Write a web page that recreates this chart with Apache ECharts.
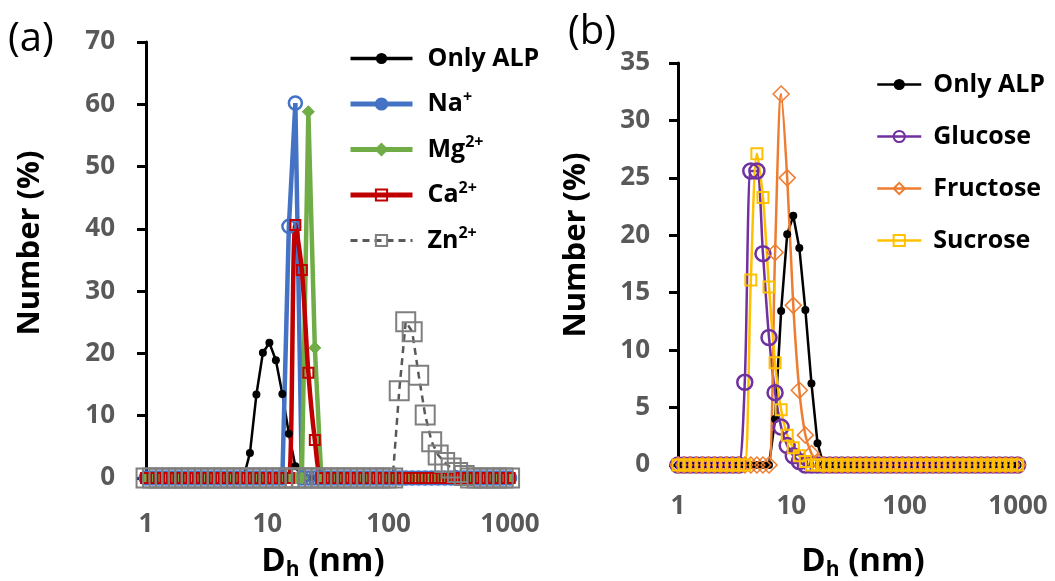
<!DOCTYPE html>
<html><head><meta charset="utf-8">
<script src="https://cdn.jsdelivr.net/npm/echarts@6/dist/echarts.min.js"></script>
<style>html,body{margin:0;padding:0;background:#fff}#c{width:1055px;height:581px}</style>
</head><body><div id="c"></div>
<script>
// Hydrodynamic size bins (nm), shared by every curve
const sizeBins = [1.001,1.132,1.281,1.449,1.639,1.854,2.097,2.371,2.683,3.034,
  3.432,3.882,4.391,4.966,5.617,6.353,7.187,8.128,9.194,10.40,
  11.76,13.30,15.05,17.02,19.25,21.78,24.63,27.86,31.51,35.65,
  40.32,45.60,51.58,58.34,65.99,74.64,84.43,95.50,108.0,122.2,
  138.2,156.3,176.8,200.0,226.2,255.9,289.4,327.3,370.3,418.8,
  473.7,535.8,606.0,685.5,775.4,877.0,992.0];
const xTickLabels = ['1','10','100','1000'];

// Panel (a)
const onlyAlp = [0,0,0,0,0,0,0,0,0,0, 0,0,0,0,0,0,4.0,13.4,20.1,21.7,
  18.9,13.5,7.1,1.9,0,0,0,0,0,0, 0,0,0,0,0,0,0,0,0,0, 0,0,0,0,0,0,0,0,0,0, 0,0,0,0,0,0,0];
const naPlus = [0,0,0,0,0,0,0,0,0,0, 0,0,0,0,0,0,0,0,0,0,
  0,0,40.4,60.2,0,0,0,0,0,0, 0,0,0,0,0,0,0,0,0,0, 0,0,0,0,0,0,0,0,0,0, 0,0,0,0,0,0,0];
const mgPlus = [0,0,0,0,0,0,0,0,0,0, 0,0,0,0,0,0,0,0,0,0,
  0,0,0,0,0,58.8,20.9,0,0,0, 0,0,0,0,0,0,0,0,0,0, 0,0,0,0,0,0,0,0,0,0, 0,0,0,0,0,0,0];
const caPlus = [0,0,0,0,0,0,0,0,0,0, 0,0,0,0,0,0,0,0,0,0,
  0,0,0,40.6,33.4,16.9,6.1,0,0,0, 0,0,0,0,0,0,0,0,0,0, 0,0,0,0,0,0,0,0,0,0, 0,0,0,0,0,0,0];
const znPlus = [0,0,0,0,0,0,0,0,0,0, 0,0,0,0,0,0,0,0,0,0,
  0,0,0,0,0,0,0,0,0,0, 0,0,0,0,0,0,0,0,0,14.0,
  25.1,23.5,16.5,10.1,5.8,3.7,2.5,1.6,0.9,0.4, 0,0,0,0,0,0,0];

// Panel (b)
const glucose = [0,0,0,0,0,0,0,0,0,0, 0,7.2,25.6,25.6,18.4,11.1,6.3,3.3,1.7,0.8,
  0.3,0,0,0,0,0,0,0,0,0, 0,0,0,0,0,0,0,0,0,0, 0,0,0,0,0,0,0,0,0,0, 0,0,0,0,0,0,0];
const fructose = [0,0,0,0,0,0,0,0,0,0, 0,0,0,0,0,0,18.5,32.3,25.0,13.9,
  6.5,2.6,1.0,0.3,0,0,0,0,0,0, 0,0,0,0,0,0,0,0,0,0, 0,0,0,0,0,0,0,0,0,0, 0,0,0,0,0,0,0];
const sucrose = [0,0,0,0,0,0,0,0,0,0, 0,0,16.1,27.1,23.3,15.5,8.9,4.8,2.6,1.5,
  0.8,0.3,0,0,0,0,0,0,0,0, 0,0,0,0,0,0,0,0,0,0, 0,0,0,0,0,0,0,0,0,0, 0,0,0,0,0,0,0];

const FONT = 'Open Sans';
const GRAY = '#595959';
const CLEAR = 'rgba(0,0,0,0)';
const C = {alp: '#000', na: '#4472C4', mg: '#70AD47', ca: '#C00000', zn: '#7F7F7F',
  glu: '#7030A0', fru: '#ED7D31', suc: '#FFC000'};

function pts(ys) { return sizeBins.map((x, i) => [x, ys[i]]); }
function ser(name, ys, gi, o) {
  return Object.assign({
    type: 'line', name: name, xAxisIndex: gi, yAxisIndex: gi, data: pts(ys),
    clip: false, animation: false, emphasis: {disabled: true}
  }, o);
}
function xAxis(gi, margin) {
  return {
    type: 'log', logBase: 10, min: 1, max: 1000, gridIndex: gi,
    axisLine: {show: false}, axisTick: {show: false}, splitLine: {show: false},
    minorTick: {show: false}, minorSplitLine: {show: false},
    axisLabel: {
      margin: margin, color: GRAY, fontFamily: FONT, fontWeight: 'bold', fontSize: 26,
      formatter: v => xTickLabels[Math.round(Math.log10(v))]
    }
  };
}
function yAxis(gi, max, interval, margin) {
  return {
    type: 'value', min: 0, max: max, interval: interval, gridIndex: gi,
    axisLine: {show: true, lineStyle: {color: '#000', width: 3}},
    axisTick: {show: true, inside: false, length: 9, lineStyle: {color: '#000', width: 3}},
    splitLine: {show: false},
    axisLabel: {margin: margin, color: GRAY, fontFamily: FONT, fontWeight: 'bold', fontSize: 26}
  };
}

const legendLabels = {
  'Only ALP': '{sp|}{t|Only ALP}',
  'Na+': '{sp|}{t|Na}{s|+}',
  'Mg2+': '{sp|}{t|Mg}{s|2+}',
  'Ca2+': '{sp|}{t|Ca}{s|2+}',
  'Zn2+': '{sp|}{t|Zn}{s|2+}',
  'Only ALP (b)': '{sp2|}{t|Only ALP}',
  'Glucose': '{sp2|}{t|Glucose}',
  'Fructose': '{sp2|}{t|Fructose}',
  'Sucrose': '{sp2|}{t|Sucrose}'
};
const legendRich = {
  sp: {width: 10},
  sp2: {width: 7},
  t: {fontFamily: FONT, fontSize: 25, fontWeight: 'bold', color: '#000', lineHeight: 30},
  s: {fontFamily: FONT, fontSize: 16, fontWeight: 'bold', color: '#000', lineHeight: 17, verticalAlign: 'top'}
};

const titleRich = {
  d: {fontFamily: FONT, fontSize: 33, fontWeight: 'bold', fill: '#000', lineHeight: 38},
  h: {fontFamily: FONT, fontSize: 21, fontWeight: 'bold', fill: '#000', lineHeight: 23, verticalAlign: 'bottom'}
};

const option = {
  backgroundColor: '#fff',
  animation: false,
  grid: [
    {left: 146, top: 42, width: 364, height: 436, outerBoundsMode: 'none'},
    {left: 678, top: 63, width: 340, height: 402, outerBoundsMode: 'none'}
  ],
  xAxis: [xAxis(0, 34), xAxis(1, 29)],
  yAxis: [yAxis(0, 70, 10, 31), yAxis(1, 35, 5, 28)],
  legend: [
    {
      orient: 'vertical', left: 343, top: 41, itemWidth: 62, itemHeight: 14, itemGap: 18,
      selectedMode: false,
      data: [
        {name: 'Only ALP', lineStyle: {width: 3.5}},
        {name: 'Na+', lineStyle: {width: 5}, itemStyle: {color: C.na}},
        {name: 'Mg2+', lineStyle: {width: 5}},
        {name: 'Ca2+', lineStyle: {width: 5}},
        {name: 'Zn2+', lineStyle: {width: 3}}
      ],
      formatter: n => legendLabels[n], textStyle: {rich: legendRich}
    },
    {
      orient: 'vertical', left: 871, top: 67, itemWidth: 44, itemHeight: 14, itemGap: 27,
      selectedMode: false,
      data: [
        {name: 'Only ALP (b)', lineStyle: {width: 2.5}},
        {name: 'Glucose', lineStyle: {width: 2.5}},
        {name: 'Fructose', lineStyle: {width: 2.5}},
        {name: 'Sucrose', lineStyle: {width: 2.5}}
      ],
      formatter: n => legendLabels[n], textStyle: {rich: legendRich}
    }
  ],
  series: [
    ser('Only ALP', onlyAlp, 0, {symbol: 'circle', symbolSize: 8,
      itemStyle: {color: C.alp}, lineStyle: {color: C.alp, width: 2.5}}),
    ser('Na+', naPlus, 0, {symbol: 'circle', symbolSize: 13,
      itemStyle: {color: CLEAR, borderColor: C.na, borderWidth: 2.5},
      lineStyle: {color: C.na, width: 4.5}}),
    ser('Mg2+', mgPlus, 0, {symbol: 'diamond', symbolSize: 12,
      itemStyle: {color: C.mg, borderColor: C.mg, borderWidth: 1},
      lineStyle: {color: C.mg, width: 4.5}}),
    ser('Ca2+', caPlus, 0, {symbol: 'rect', symbolSize: 10, smooth: 0.3,
      itemStyle: {color: CLEAR, borderColor: C.ca, borderWidth: 2},
      lineStyle: {color: C.ca, width: 4.5}}),
    ser('Zn2+', znPlus, 0, {symbol: 'rect', symbolSize: 19,
      itemStyle: {color: CLEAR, borderColor: C.zn, borderWidth: 2},
      lineStyle: {color: GRAY, width: 2.5, type: [7, 5]}}),

    ser('Only ALP (b)', onlyAlp, 1, {symbol: 'circle', symbolSize: 8,
      itemStyle: {color: C.alp}, lineStyle: {color: C.alp, width: 2.5}}),
    ser('Glucose', glucose, 1, {symbol: 'circle', symbolSize: 15, smooth: 0.3,
      itemStyle: {color: CLEAR, borderColor: C.glu, borderWidth: 2.5},
      lineStyle: {color: C.glu, width: 2.5}}),
    ser('Fructose', fructose, 1, {symbol: 'diamond', symbolSize: 16, smooth: 0.3,
      itemStyle: {color: CLEAR, borderColor: C.fru, borderWidth: 1.5},
      lineStyle: {color: C.fru, width: 2.5}}),
    ser('Sucrose', sucrose, 1, {symbol: 'rect', symbolSize: 11, smooth: 0.3,
      itemStyle: {color: CLEAR, borderColor: C.suc, borderWidth: 2},
      lineStyle: {color: C.suc, width: 2.5}})
  ],
  graphic: [
    {type: 'text', x: 8, y: 40, style: {text: '(a)', fontFamily: FONT, fontSize: 40, fill: '#000', textVerticalAlign: 'middle'}},
    {type: 'text', x: 568, y: 33, style: {text: '(b)', fontFamily: FONT, fontSize: 40, fill: '#000', textVerticalAlign: 'middle'}},
    {type: 'text', x: 30, y: 243, rotation: Math.PI / 2, style: {text: 'Number (%)', fontFamily: FONT, fontSize: 31, fontWeight: 'bold', fill: '#000', textAlign: 'center', textVerticalAlign: 'middle'}},
    {type: 'text', x: 576, y: 245, rotation: Math.PI / 2, style: {text: 'Number (%)', fontFamily: FONT, fontSize: 31, fontWeight: 'bold', fill: '#000', textAlign: 'center', textVerticalAlign: 'middle'}},
    {type: 'text', x: 323, y: 562, style: {text: '{d|D}{h|h}{d| (nm)}', rich: titleRich, textAlign: 'center', textVerticalAlign: 'middle'}},
    {type: 'text', x: 863, y: 562, style: {text: '{d|D}{h|h}{d| (nm)}', rich: titleRich, textAlign: 'center', textVerticalAlign: 'middle'}}
  ]
};
const chart = echarts.init(document.getElementById('c'), null, {renderer: 'canvas'});
chart.setOption(option);
</script>
</body></html>
